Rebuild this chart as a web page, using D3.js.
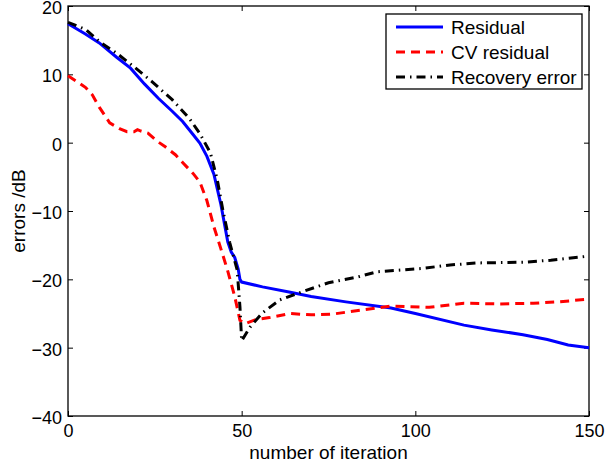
<!DOCTYPE html>
<html>
<head>
<meta charset="utf-8">
<script src="https://cdn.jsdelivr.net/npm/d3@7"></script>
<style>
  body { margin: 0; background: #fff; }
  text { font-family: "Liberation Sans", Arial, sans-serif; fill: #000; }
</style>
</head>
<body>
<div id="grafico"></div>
<script>
// values: [iteration, dB]
var residual = [[0,17.4],[5,15.9],[9,14.6],[14,12.5],[18,10.9],[22,8.6],[26,6.5],[30,4.6],[33,3.1],
    [36,1.2],[38,-0.1],[40,-2],[42,-4.6],[44,-9],[46,-14.5],[47,-16],[48,-16.8],[49,-18.5],[49.5,-20],
    [50,-20.4],[56,-21.1],[64,-21.9],[70,-22.5],[80,-23.3],[93,-24.2],[100,-25],[114,-26.7],[122,-27.4],
    [131,-28.1],[138,-28.8],[144,-29.6],[150,-30]];
var cvResidual = [[0,9.8],[3,8.8],[5,8.1],[7,7],[9,5.2],[12,2.9],[15,2],[17,1.6],[19,1.6],[20,1.9],[21,1.7],
    [23,1.4],[26,0.1],[28,-0.6],[31,-1.8],[33,-2.9],[36,-4.5],[38,-5.8],[40,-8.5],[42,-12.3],[44,-15.5],
    [46,-18.8],[48,-22.5],[49.5,-26],[51,-26.5],[54,-25.9],[58,-25.6],[64,-25],[70,-25.2],[76,-25.1],
    [83,-24.6],[93,-23.9],[104,-24.1],[114,-23.5],[124,-23.6],[134,-23.5],[141,-23.3],[150,-22.9]];
var recovery = [[0,17.6],[5,16.6],[9,14.8],[14,13.1],[19,11.1],[24,9],[30,6.3],[35,3.5],[38,1.3],[41,-1.5],
    [43,-5.5],[44.6,-9.9],[46.6,-14.7],[48.7,-18.6],[49.5,-24],[50,-29],[52.4,-27],[56,-24.9],[61,-23],
    [67,-21.9],[75,-20.5],[83,-19.7],[89,-18.9],[102,-18.4],[110,-17.9],[118,-17.6],[131,-17.5],
    [139,-17.2],[150,-16.6]];
var xTicks = [0, 50, 100, 150];
var yTicks = [20, 10, 0, -10, -20, -30, -40];
var names = ["Residual", "CV residual", "Recovery error"];

var width = 605, height = 465;
var mLeft = 68, mTop = 6, w = 521, h = 410;

var svg = d3.select("#grafico").append("svg")
    .attr("width", width)
    .attr("height", height)

var x = d3.scaleLinear().domain([0, 150]).range([mLeft, mLeft + w])
var y = d3.scaleLinear().domain([-40, 20]).range([mTop + h, mTop])

var fmt = function(d) { return d < 0 ? "\u2212" + Math.abs(d) : d }

// axes with inward ticks, mirrored on top and right
function styleAxis(g) {
    g.select(".domain").remove()
    g.selectAll("line").attr("stroke", "#000").attr("stroke-width", 1)
    g.selectAll("text").style("font-size", "18px").style("font-family", "Liberation Sans, Arial, sans-serif")
}
svg.append("g").attr("transform", "translate(0," + (mTop + h) + ")")
    .call(d3.axisBottom(x).tickValues(xTicks).tickSizeInner(-5).tickSizeOuter(0).tickPadding(8).tickFormat(fmt))
    .call(styleAxis)
svg.append("g").attr("transform", "translate(0," + mTop + ")")
    .call(d3.axisTop(x).tickValues(xTicks).tickSizeInner(-5).tickSizeOuter(0).tickFormat(""))
    .call(styleAxis)
svg.append("g").attr("transform", "translate(" + mLeft + ",0)")
    .call(d3.axisLeft(y).tickValues(yTicks).tickSizeInner(-5).tickSizeOuter(0).tickPadding(6).tickFormat(fmt))
    .call(styleAxis)
    .selectAll("text").attr("dy", "0.42em")
svg.append("g").attr("transform", "translate(" + (mLeft + w) + ",0)")
    .call(d3.axisRight(y).tickValues(yTicks).tickSizeInner(-5).tickSizeOuter(0).tickFormat(""))
    .call(styleAxis)

svg.append("rect")
    .attr("x", mLeft).attr("y", mTop).attr("width", w).attr("height", h)
    .attr("fill", "none").attr("stroke", "#000").attr("stroke-width", 1.3)

var line = d3.line()
    .x(function(d) { return x(d[0]) })
    .y(function(d) { return y(d[1]) })

var series = [
    { name: names[0], data: residual, color: "#0000ff", dash: null },
    { name: names[1], data: cvResidual, color: "#ff0000", dash: "9,6" },
    { name: names[2], data: recovery, color: "#000000", dash: "9,5,1.5,5" }
]

var plot = svg.append("g")
series.forEach(function(s) {
    plot.append("path")
        .datum(s.data)
        .attr("d", line)
        .attr("fill", "none")
        .attr("stroke", s.color)
        .attr("stroke-width", 3)
        .attr("stroke-dasharray", s.dash)
})

// legend
var lg = svg.append("g").attr("transform", "translate(386,14)")
lg.append("rect").attr("width", 196).attr("height", 75)
    .attr("fill", "#fff").attr("stroke", "#000").attr("stroke-width", 1.3)
series.forEach(function(s, i) {
    var yy = 13 + i * 25
    lg.append("line").attr("x1", 10).attr("x2", 57).attr("y1", yy).attr("y2", yy)
        .attr("stroke", s.color).attr("stroke-width", 3).attr("stroke-dasharray", s.dash)
    lg.append("text").attr("x", 65).attr("y", yy + 7).style("font-size", "19px").text(s.name)
})

svg.append("text")
    .attr("x", mLeft + w / 2).attr("y", 459)
    .attr("text-anchor", "middle").style("font-size", "19px")
    .text("number of iteration")
svg.append("text")
    .attr("transform", "translate(25,211) rotate(-90)")
    .attr("text-anchor", "middle").style("font-size", "19px")
    .text("errors /dB")
</script>
</body>
</html>
